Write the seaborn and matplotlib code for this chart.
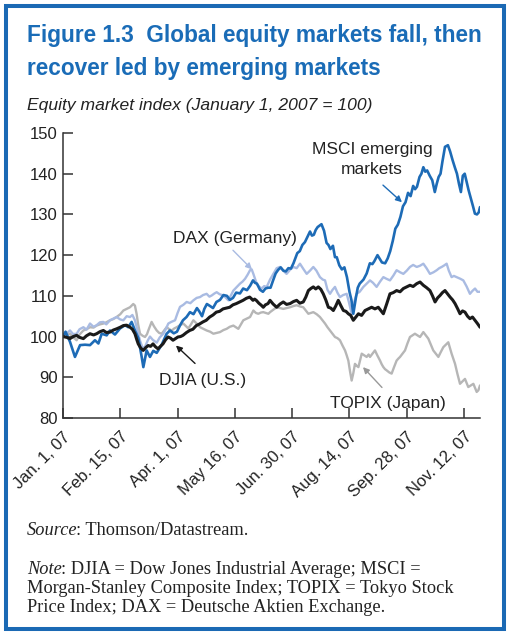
import matplotlib
matplotlib.use("Agg")
import numpy as np
import pandas as pd
import seaborn as sns
import matplotlib.pyplot as plt
from matplotlib.patches import Rectangle

# ---------------- data (days since Jan 1, 2007 ; index, Jan 1 2007 = 100) -------------
msci_days = [0, 2, 5.5, 9.4, 13.4, 17.3, 21.2, 25.1, 27.8, 30.4, 34.3, 36.9, 40.8, 44.8, 48.7,
             51.3, 53.9, 56.5, 59.2, 61.8, 63.1, 65.7, 68.3, 70.9, 73.6, 77.5, 81.4, 84, 87, 89.5,
             92, 94.2, 97, 99.7, 102.5, 105.2, 107, 109.2, 111, 113, 115.5, 117.8, 120.5, 123.3,
             126, 128.8, 131, 133.5, 136, 139, 141.5, 144.5, 147, 149.2, 150.8, 152.3, 154.7, 157,
             159, 161, 163, 165, 167, 169, 171, 173, 175, 177, 179, 181, 184, 186, 188, 190, 192,
             194, 195.5, 197, 198.5, 200, 203, 205, 207, 208.5, 210, 212, 213.6, 215, 217, 219,
             221, 223, 225, 226.5, 228, 230, 231.5, 233, 236, 238.5, 241, 243, 244.5, 247, 249,
             250.5, 253, 255, 257, 259, 261, 263, 265, 267, 269, 271, 273, 275, 276.5, 278, 280,
             281.5, 283, 284.5, 286, 288, 290, 292, 293.5, 295, 296.5, 298, 300, 302.3, 304, 306,
             307.8, 309.4, 311, 312.5, 314, 315.5, 317, 318.5, 320, 322, 323.5, 325.1, 326.5, 327.5]
msci_vals = [100, 101.2, 98.7, 95, 97.9, 98, 97.9, 99.1, 98.3, 100.7, 100.3, 101.5, 100.5, 102, 102.8,
             102.3, 103.6, 101.5, 99.6, 95, 92.5, 96.6, 95, 96.5, 96, 98, 100.7, 101.5, 100.8, 101.2,
             102.8, 104, 104.8, 106, 105.5, 107, 106.2, 105, 106.8, 108, 107.5, 107, 108.5, 109,
             110.2, 110, 109, 109.5, 110.8, 110.6, 111.8, 111.4, 112.5, 113.8, 113.2, 113, 111.5, 111,
             111.8, 112, 112, 113.8, 115.5, 116.4, 117, 116.2, 116, 116.8, 116.7, 118, 120.5, 121, 122.5, 123.2, 124.5,
             125.8, 124.8, 125, 126.2, 126.9, 127.6, 126, 123, 122.5, 121.5, 122.3, 119.5, 119.5, 117.5, 116.5,
             117, 114.6, 111, 109, 105.6, 109.5, 112, 113, 114, 115.5, 118, 117.8, 118.5, 120, 119,
             118.2, 118, 119.2, 121, 123.5, 126.5, 127.5, 129.4, 132, 133, 135.3, 134.5, 137, 136.2, 136.8, 139.2,
             140, 141.6, 140.5, 140.8, 139.5, 138.4, 135.5, 137.5, 139.2, 140, 143, 146.6, 147, 145.5, 143.3,
             141.5, 140, 137.5, 135.5, 139.5, 140, 138, 136, 134.3, 132, 130.2, 130, 130.5, 131.8]

dax_days = [0, 3, 5.5, 8, 10.7, 13, 16, 18.5, 21.2, 24, 26.4, 29, 31.7, 34, 36.9, 39.5, 42.1, 45,
            47.4, 50, 52.6, 54.5, 56.5, 58.5, 60.5, 62.5, 64.4, 66.5, 68.3, 70.5, 73.6, 76, 78.8,
            81, 82.7, 85, 88, 90, 91.9, 94.5, 97.1, 100, 102.4, 105, 107.6, 110, 112.8, 115, 116.8,
            119, 120.7, 123, 125.9, 128, 129.9, 132, 133.8, 136.5, 139, 141, 143, 145, 146.9, 148.2,
            149.5, 151, 152.1, 154, 156, 158, 160, 162.6, 165.2, 167.8, 170.4, 173, 175.6, 178.3,
            180.9, 183.5, 186.1, 189, 191.4, 194, 196.6, 199, 201.8, 204, 205.8, 207.7, 209.7,
            211.5, 213.6, 215.5, 217.5, 220, 222.8, 224.5, 226.7, 228.5, 230.6, 233, 235.9, 238.5,
            241.1, 243.5, 246.3, 249, 251.6, 254, 256.8, 259.5, 262, 264.7, 267.3, 270, 272.5, 275,
            277.8, 280.4, 283, 285.5, 288.2, 291, 293.5, 295.5, 297.4, 299.5, 301.3, 303, 305.2,
            307, 309.2, 312, 314.4, 317, 319.6, 321.5, 323.6, 325.5, 327.5]
dax_vals = [100, 100.8, 101.5, 100.6, 100.7, 101.8, 102.3, 101.7, 103.2, 102.4, 102.8, 103.5, 103.6, 103, 104, 104.4, 104.8, 104.2,
            104, 105, 104.8, 105.3, 104, 101.5, 99, 97.2, 97.5, 99, 100, 99.2, 98.5, 99.8, 100.7,
            102, 103.2, 103.6, 104, 105.8, 107.3, 107.8, 108.5, 108.2, 108.9, 109.5, 109.7, 110.2, 110.5, 109.8, 110.1,
            110.6, 110.9, 110.4, 110.1, 109.5, 108.9, 110.2, 111.3, 112.2, 113, 113.5, 114.2, 115.2, 116.3, 116.5,
            115.4, 114, 113, 112.3, 111.8, 112.4, 112.2, 114, 115.4, 116.8, 117.1, 116.2, 115.4, 116.4,
            117.1, 116.8, 117.9, 116.5, 115.4, 116.2, 117.1, 116.2, 114.6, 114, 113.8, 111.5, 110.5,
            111.4, 112.2, 110.8, 109.7, 110.2, 110.5, 108.5, 105.6, 108.3, 110.5, 111, 112.2, 113,
            113.8, 113.2, 112.2, 113.5, 114.6, 114.2, 113.8, 115, 116.3, 115.8, 115.4, 116.2, 117.1, 117.6,
            117.1, 117.4, 117.9, 116.8, 115.4, 115.8, 116.3, 116.8, 117.1, 117.5, 117.9, 116.2, 114.6,
            114.9, 114.6, 114.2, 113.8, 112.3, 110.5, 111.2, 111.8, 111, 111]

djia_days = [0, 3, 5.5, 8, 10.7, 13, 16, 18.5, 21.2, 24, 26.4, 29, 31.7, 34, 36.9, 39.5, 42.1, 45,
             47.4, 50, 52.6, 54.5, 56.5, 58, 59.1, 61, 63, 65, 66.9, 68.8, 70.7, 72.6, 74.6, 76.5,
             78.5, 80.5, 82.5, 84.5, 86.4, 88.3, 90.3, 92.3, 94.2, 97, 99.5, 102, 104.7, 107.3,
             109.9, 112.5, 115.2, 117.8, 120.4, 123, 125.7, 128.3, 130.9, 133.5, 136.1, 138.8,
             141.4, 144, 146.6, 148, 149.2, 150.5, 151.8, 153.8, 155.7, 157.3, 159, 161, 162.6, 165,
             167.8, 170.5, 173, 175.6, 178.3, 181, 183.5, 186, 188.7, 190.7, 192.7, 194.6, 196.6,
             198.5, 200.5, 202.5, 204.4, 206.4, 208.4, 210.3, 212.3, 214.2, 216.2, 218.2, 220.2,
             222.2, 224.1, 226, 228, 230, 232, 234.5, 237.2, 239.8, 242.4, 245, 247.6, 249.6, 251.6,
             254.2, 256.8, 259.4, 262, 264.7, 267.3, 270, 272.5, 275, 277.8, 280.4, 283, 285.6,
             288.2, 290.2, 292.2, 294.2, 296.1, 298, 300, 302, 304, 306, 307.9, 310, 311.8, 313.8,
             315.7, 317.7, 319.6, 321.6, 323.6, 325.5, 327.5]
djia_vals = [100, 99.8, 99.5, 100, 100.3, 99.8, 99.5, 100.2, 100.7, 100.4, 100.7, 101.2, 101.5, 101, 101.1, 101.6, 101.9, 102.3,
             102.7, 102.8, 102.3, 101.8, 100.7, 99.2, 98.2, 97.2, 96.6, 97.3, 97.8, 97.6, 98.2, 97.5, 97, 97.6,
             98.2, 99.2, 99.9, 99.6, 99.1, 99.5, 99.9, 100, 100.3, 101, 101.5, 101.8, 102.7, 103.1,
             103.6, 104, 104.8, 105.3, 106, 106.2, 106.8, 107, 107.2, 107.8, 108.1, 108.5,
             108.9, 109.4, 109.7, 109.3, 108.9, 109.2, 108.9, 108.2, 107.7, 107.2, 107.8, 108.1, 108.9, 108,
             107.2, 108, 108.5, 107.9, 108.1, 108.6, 108.9, 108.2, 108.5, 109.7, 111.3, 111.8, 112.2,
             111.7, 112.2, 111.6, 110.5, 109, 107.2, 107, 106.4, 107.5, 108.9, 107.6, 106.4,
             106.2, 105.6, 105.2, 104, 104.8, 105.6, 105.2, 106.4, 106.8, 107.2, 106.8, 107.2, 106.4, 105.6,
             108, 110.5, 110.8, 111.3, 111, 111.8, 112.2, 112.6, 112.3, 113, 113.4, 112.6, 112,
             111.3, 110, 108.5, 109.5, 110.1, 110.8, 111.3, 110.5, 109.7, 109, 108.1, 106.8, 105.6, 106.3,
             106, 105, 104.4, 104.8, 104, 103.2, 102.3]

topix_days = [0, 3, 5.5, 8, 10.7, 13, 16, 18.5, 21.2, 24, 26.4, 29, 31.7, 34, 36.9, 39.5, 42.1, 45,
              47.4, 50, 52.6, 55.2, 56.5, 57.8, 59, 60.5, 62.5, 64.4, 66, 67, 69.6, 71.5, 73.6, 75.5,
              77.5, 79.5, 81.4, 83.5, 85.4, 87.4, 89.3, 92, 94.5, 96.5, 98.4, 100.5, 102.4, 105,
              107.6, 110.2, 112.8, 115.5, 118.1, 120.7, 123.3, 126, 128.5, 131, 133.8, 135.8, 137.7,
              139.7, 141.6, 144.3, 146.9, 148.2, 149.5, 151.5, 153.4, 155.4, 157.3, 159.3, 161.3,
              162.6, 165.2, 167.8, 170.4, 173, 175.7, 178.3, 181, 183.5, 186.1, 188.7, 190.7, 192.7,
              194.6, 196.6, 199.2, 201.8, 203.8, 205.8, 207.7, 209.7, 211.6, 213.6, 215.6, 217.5,
              219.5, 221.5, 222.8, 224.1, 225.4, 226.7, 228, 229.3, 230.7, 232, 233.3, 234.6, 236.5,
              238.5, 240, 241.1, 243, 245, 247, 249, 250.3, 251.6, 252.9, 254.2, 256.2, 258.1, 260,
              262, 263.4, 264.7, 266.7, 268.6, 270.5, 272.5, 274.5, 276.4, 278.4, 280.4, 281.7, 283,
              285, 286.9, 288.9, 290.8, 292.8, 294.8, 296.7, 298.7, 300.7, 302.6, 303.9, 305.2,
              306.6, 307.9, 309.8, 311.8, 313.7, 315.7, 317, 318.3, 320.3, 322.3, 323.6, 324.9,
              326.2, 327.5]
topix_vals = [100, 100.4, 100.7, 99.8, 99.1, 100.5, 101.5, 101.8, 102.3, 102.2, 102.7, 103, 103.2, 103.5, 104, 104.3, 104.8, 105.5,
              106.4, 106.8, 107.2, 108, 107.6, 105.6, 103, 100.7, 100.2, 99.9, 100.6, 101.5, 103.6, 102.5, 101.5, 100.9,
              100.7, 101.5, 102.3, 101.8, 101.5, 102, 102.3, 102.8, 103.2, 102.6, 102, 103, 104, 103.2,
              102.3, 101.9, 101.5, 101.2, 100.7, 100.9, 101.1, 101.6, 101.9, 102.4, 102.7, 102.3, 101.9,
              103, 104, 104.4, 104.8, 105.6, 106.4, 105.8, 105.6, 105.9, 106, 105.8, 105.6,
              106, 106.6, 107.2, 107, 106.8, 107, 107.2, 107.5, 107.7, 107.4, 107.2, 106.4, 105.6,
              105.8, 106, 105.5, 104.8, 104, 103.2, 102.3, 101.5, 100.7, 99.9, 99.6, 99.1,
              97.8, 96.6, 95.4, 94.1, 91.5, 89.2, 91, 93.3, 92.8, 92.5, 94.2, 95.8, 95.4,
              95, 95.6, 95, 95.8, 96.6, 95.3, 94.1, 93.2, 92.5, 92, 91.7, 91.2, 90.9, 92.5,
              94.1, 94.6, 95, 95.8, 96.6, 98.3, 99.9, 100.3, 100.7, 100.3, 99.9, 100.5, 101.1,
              100.3, 99.5, 98, 96.6, 95.8, 95, 96.2, 97.4, 98, 98.6, 97.2, 95.8,
              94.5, 93.3, 90.8, 88.4, 89, 89.6, 88.6, 87.6, 88, 88.4, 87.4, 86.4,
              86.8, 88]

tick_days = [0, 45, 90, 135, 180, 225, 270, 315]
tick_labels = ["Jan. 1, 07", "Feb. 15, 07", "Apr. 1, 07", "May 16, 07",
               "Jun. 30, 07", "Aug. 14, 07", "Sep. 28, 07", "Nov. 12, 07"]
y_ticks = [80, 90, 100, 110, 120, 130, 140, 150]

# ---------------- style ----------------
sns.set_theme(style="ticks")
plt.rcParams["font.family"] = ["Liberation Sans", "DejaVu Sans"]

W, H = 507, 633
fig = plt.figure(figsize=(W / 100, H / 100), dpi=100)
fig.patch.set_facecolor("white")

ax = fig.add_axes([63 / W, 1 - 418 / H, (480 - 63) / W, (418 - 133) / H])
ax.set_facecolor("white")

BLUE = "#1d6bb6"
LIGHT = "#a9bbe2"
GREY = "#b6b6b6"
BLACK = "#1a1a1a"

series = [
    ("TOPIX", topix_days, topix_vals, GREY, 1.7),
    ("DAX", dax_days, dax_vals, LIGHT, 1.7),
    ("MSCI", msci_days, msci_vals, BLUE, 1.9),
    ("DJIA", djia_days, djia_vals, BLACK, 2.2),
]
for name, d, v, c, lw in series:
    df = pd.DataFrame({"day": d, "value": v})
    sns.lineplot(data=df, x="day", y="value", ax=ax, color=c, linewidth=lw,
                 estimator=None, sort=False, legend=False)

ax.set_xlim(0, 327.5)
ax.set_ylim(80, 150)
ax.set_xticks(tick_days)
ax.set_xticklabels(tick_labels, rotation=45, ha="right", va="top",
                   rotation_mode="anchor", fontsize=12, color="#222222")
ax.set_yticks(y_ticks)
ax.set_yticklabels([str(t) for t in y_ticks], fontsize=12, color="#222222")
ax.set_xlabel("")
ax.set_ylabel("")
ax.tick_params(axis="both", direction="in", length=7, width=1.1, color="#333333")
ax.tick_params(axis="y", pad=4)
ax.tick_params(axis="x", pad=8)
for s in ["top", "right"]:
    ax.spines[s].set_visible(False)
for s in ["left", "bottom"]:
    ax.spines[s].set_color("#333333")
    ax.spines[s].set_linewidth(1.1)

# annotations
lab_kw = dict(fontsize=12.5, color="#222222", ha="center", va="center")
ax.text(242.7, 143.5, "MSCI emerging\nmarkets", linespacing=1.4, **lab_kw)
ax.text(135, 124.1, "DAX (Germany)", **lab_kw)
ax.text(110, 89.3, "DJIA (U.S.)", **lab_kw)
ax.text(255, 83.6, "TOPIX (Japan)", **lab_kw)

def arrow(start, end, color):
    ax.annotate("", xy=end, xytext=start,
                arrowprops=dict(arrowstyle="-|>", color=color, lw=1.0,
                                mutation_scale=9, shrinkA=0, shrinkB=0))

arrow((251.3, 137.2), (266.2, 133.0), BLUE)
arrow((133.5, 121.2), (148.4, 116.5), LIGHT)
arrow((103.7, 93.4), (88.7, 97.8), BLACK)
arrow((250.5, 87.5), (235.6, 92.5), "#999999")

# frame
fig.patches.append(Rectangle((6 / W, 4 / H), 498 / W, (629 - 5.5) / H,
                             transform=fig.transFigure, fill=False,
                             edgecolor="#1b69b4", linewidth=2.9, zorder=10))

# titles
TITLE_C = "#1a6cb7"
fig.text(27 / W, 1 - 42 / H, "Figure 1.3  Global equity markets fall, then",
         fontsize=16.3, fontweight="bold", color=TITLE_C, va="baseline")
fig.text(27 / W, 1 - 75 / H, "recover led by emerging markets",
         fontsize=16.3, fontweight="bold", color=TITLE_C, va="baseline")
fig.text(27 / W, 1 - 110 / H, "Equity market index (January 1, 2007 = 100)",
         fontsize=12.6, style="italic", color="#222222", va="baseline")

# footer (serif, italic lead words)
renderer = fig.canvas.get_renderer()
serif = ["Liberation Serif", "DejaVu Serif"]
fs = 13.2
def mixed(y, ital, rest):
    t = fig.text(27 / W, 1 - y / H, ital, fontsize=fs, style="italic",
                 family=serif, color="#222222", va="baseline")
    bb = t.get_window_extent(renderer=renderer)
    fig.text((bb.x1 - 1) / W, 1 - y / H, rest, fontsize=fs, family=serif,
             color="#222222", va="baseline")

mixed(535, "Source", ": Thomson/Datastream.")
mixed(574, "Note", ": DJIA = Dow Jones Industrial Average; MSCI =")
fig.text(27 / W, 1 - 593 / H, "Morgan-Stanley Composite Index; TOPIX = Tokyo Stock",
         fontsize=fs, family=serif, color="#222222", va="baseline")
fig.text(27 / W, 1 - 612 / H, "Price Index; DAX = Deutsche Aktien Exchange.",
         fontsize=fs, family=serif, color="#222222", va="baseline")

fig.savefig("out.png", dpi=100)
